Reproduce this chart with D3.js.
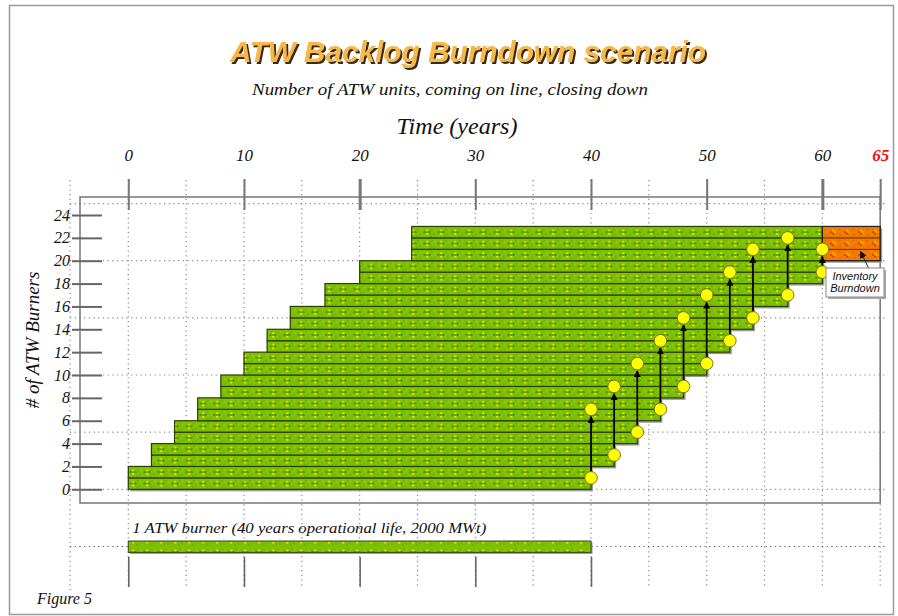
<!DOCTYPE html>
<html>
<head>
<meta charset="utf-8">
<script src="https://cdn.jsdelivr.net/npm/d3@7"></script>
<style>
  body { margin: 0; background: #fff; }
  svg { display: block; }
  .serif { font-family: "Liberation Serif", "DejaVu Serif", serif; font-style: italic; }
</style>
</head>
<body>
<div id="chart"></div>
<script>
// burner groups: start year, shutdown year, number of burners in the group
var groupStart = [0, 2, 4, 6, 8, 10, 12, 14, 17, 20, 24.5];
var groupEnd   = [40, 42, 44, 46, 48, 50, 52, 54, 57, 60, 60];
var groupCount = [2, 2, 2, 2, 2, 2, 2, 2, 2, 2, 3];

// inventory burndown period for the last burners
var inventoryStart = 60, inventoryEnd = 65;
var inventoryRows = [20, 21, 22];

// fuel transfer arrows: year, from burner level, to burner level
var transferYear = [40, 42, 44, 46, 48, 50, 52, 54, 57, 60];
var transferFrom = [1, 3, 5, 7, 9, 11, 13, 15, 17, 19];
var transferTo   = [7, 9, 11, 13, 15, 17, 19, 21, 22, 21];

var topTicks = [0, 10, 20, 30, 40, 50, 60, 65];
var leftTicks = [0, 2, 4, 6, 8, 10, 12, 14, 16, 18, 20, 22, 24];
var gridYears = [0, 5, 10, 15, 20, 25, 30, 35, 40, 45, 50, 55, 60, 65];
var gridLevels = [0, 5, 10, 15, 20, 25];
var legendSpan = [0, 40];

var width = 898, height = 616;

var x = d3.scaleLinear().domain([0, 65]).range([128.3, 880.2]);
var y = d3.scaleLinear().domain([0, 24]).range([489.3, 215]);
var rowH = y(0) - y(1);

var svg = d3.select("#chart").append("svg")
    .attr("width", width)
    .attr("height", height);

var defs = svg.append("defs");

// title drop shadow
var f = defs.append("filter").attr("id", "shadow")
    .attr("x", "-5%").attr("y", "-20%").attr("width", "110%").attr("height", "150%");
f.append("feOffset").attr("in", "SourceAlpha").attr("dx", 2).attr("dy", 2).attr("result", "off");
f.append("feFlood").attr("flood-color", "#3a2c14").attr("result", "col");
f.append("feComposite").attr("in", "col").attr("in2", "off").attr("operator", "in").attr("result", "sh");
var fm = f.append("feMerge");
fm.append("feMergeNode").attr("in", "sh");
fm.append("feMergeNode").attr("in", "SourceGraphic");

// speckled green fill
var gp = defs.append("pattern")
    .attr("id", "green")
    .attr("patternUnits", "userSpaceOnUse")
    .attr("x", x(0)).attr("y", y(0))
    .attr("width", 14).attr("height", rowH);
gp.append("rect").attr("width", 14).attr("height", rowH).attr("fill", "#80c004");
[[1.5, 4.8, "#2f7d00", 1.6], [4, 3.2, "#f0f000", 1.8], [4, 6.6, "#f0f000", 1.8], [6.5, 4.8, "#2f7d00", 1.6],
 [4.2, 5.0, "#3d8a00", 1.4], [9, 2, "#6aa600", 1.3], [11, 8, "#6aa600", 1.3], [8, 9, "#5d9a00", 1.3], [12, 3, "#98d418", 1.3]]
  .forEach(function(p) {
      gp.append("rect").attr("x", p[0]).attr("y", p[1]).attr("width", p[3]).attr("height", p[3]).attr("fill", p[2]);
  });

// speckled orange fill
var op = defs.append("pattern")
    .attr("id", "orange")
    .attr("patternUnits", "userSpaceOnUse")
    .attr("x", x(0)).attr("y", y(0))
    .attr("width", 14).attr("height", rowH);
op.append("rect").attr("width", 14).attr("height", rowH).attr("fill", "#f07c00");
[[2, 5, "#e02000"], [4, 3.4, "#ffd000"], [4, 6.6, "#e02000"], [6, 5, "#ffc000"], [10, 2, "#e86000"], [11, 8, "#e86000"]]
  .forEach(function(p) {
      op.append("rect").attr("x", p[0]).attr("y", p[1]).attr("width", 1.6).attr("height", 1.6).attr("fill", p[2]);
  });

defs.append("marker")
    .attr("id", "arrow")
    .attr("viewBox", "0 0 10 10")
    .attr("refX", 9).attr("refY", 5)
    .attr("markerWidth", 7).attr("markerHeight", 7)
    .attr("markerUnits", "userSpaceOnUse")
    .attr("orient", "auto")
    .append("path").attr("d", "M0,0L10,5L0,10Z").attr("fill", "#000");

// outer border
svg.append("rect")
    .attr("x", 9.5).attr("y", 5.5)
    .attr("width", 884).attr("height", 609)
    .attr("fill", "none").attr("stroke", "#9a9a9a").attr("stroke-width", 1.5);

// title
svg.append("text")
    .attr("x", 468).attr("y", 61.5)
    .attr("text-anchor", "middle")
    .style("font-family", "'Liberation Sans', Arial, sans-serif")
    .style("font-weight", "bold").style("font-style", "italic")
    .style("font-size", "29px")
    .attr("textLength", 476).attr("lengthAdjust", "spacingAndGlyphs")
    .attr("fill", "#f6b84a")
    .attr("filter", "url(#shadow)")
    .text("ATW Backlog Burndown scenario");

svg.append("text")
    .attr("class", "serif")
    .attr("x", 450).attr("y", 95)
    .attr("text-anchor", "middle")
    .style("font-size", "17.5px")
    .attr("textLength", 396).attr("lengthAdjust", "spacingAndGlyphs")
    .attr("fill", "#111")
    .text("Number of ATW units, coming on line, closing down");

svg.append("text")
    .attr("class", "serif")
    .attr("x", 457).attr("y", 134)
    .attr("text-anchor", "middle")
    .style("font-size", "23px")
    .attr("textLength", 121).attr("lengthAdjust", "spacingAndGlyphs")
    .attr("fill", "#111")
    .text("Time (years)");

svg.append("text")
    .attr("class", "serif")
    .attr("transform", "translate(39,340)rotate(-90)")
    .attr("text-anchor", "middle")
    .style("font-size", "19px")
    .attr("fill", "#111")
    .text("# of ATW Burners");

// dotted grid
var grid = svg.append("g").attr("stroke", "#888").attr("stroke-width", 1.2).attr("stroke-dasharray", "1.2,3.5");
grid.selectAll(".vg").data(gridYears).enter().append("line")
    .attr("x1", function(d) { return x(d); }).attr("x2", function(d) { return x(d); })
    .attr("y1", 180).attr("y2", 588);
grid.append("line").attr("x1", 70).attr("x2", 70).attr("y1", 180).attr("y2", 590);
grid.selectAll(".hg").data(gridLevels).enter().append("line")
    .attr("x1", 70).attr("x2", 886)
    .attr("y1", function(d) { return y(d); }).attr("y2", function(d) { return y(d); });
grid.append("line").attr("x1", 70).attr("x2", 886).attr("y1", 546.5).attr("y2", 546.5)
    .attr("stroke", "#555");

// plot frame
svg.append("rect")
    .attr("x", 80).attr("y", 197)
    .attr("width", x(65) - 80).attr("height", 306)
    .attr("fill", "none").attr("stroke", "#777").attr("stroke-width", 1.5);

// top axis
var topAxis = svg.append("g")
    .attr("transform", "translate(0,210)")
    .call(d3.axisTop(x).tickValues(topTicks).tickSize(31).tickPadding(18).tickFormat(d3.format("d")));
topAxis.select(".domain").remove();
topAxis.selectAll(".tick line").attr("stroke", "#777").attr("stroke-width", function(d) { return (d === 20 || d === 60) ? 3 : 2; });
topAxis.selectAll(".tick text")
    .attr("class", "serif")
    .style("font-size", "17px")
    .attr("fill", function(d) { return d === 65 ? "#ee1111" : "#111"; })
    .style("font-weight", function(d) { return d === 65 ? "bold" : "normal"; });

// left axis
var leftAxis = svg.append("g")
    .attr("transform", "translate(102,0)")
    .call(d3.axisLeft(y).tickValues(leftTicks).tickSize(30).tickPadding(2));
leftAxis.select(".domain").remove();
leftAxis.selectAll(".tick line").attr("stroke", "#666").attr("stroke-width", 2);
leftAxis.selectAll(".tick text")
    .attr("class", "serif")
    .style("font-size", "16px")
    .attr("fill", "#111");

// bottom ticks under the legend bar
var botAxis = svg.append("g")
    .attr("transform", "translate(0,557)")
    .call(d3.axisBottom(x).tickValues(d3.range(legendSpan[0], legendSpan[1] + 1, 10)).tickSize(30).tickFormat(""));
botAxis.select(".domain").remove();
botAxis.selectAll(".tick line").attr("stroke", "#666").attr("stroke-width", 1.6);

// burner groups
var groups = groupStart.map(function(s, i) {
    var base = d3.sum(groupCount.slice(0, i));
    return { start: s, end: groupEnd[i], base: base, count: groupCount[i] };
});

var rows = [];
groups.forEach(function(g) {
    d3.range(g.count).forEach(function(k) {
        rows.push({ start: g.start, end: g.end, level: g.base + k });
    });
});

svg.append("g").selectAll("rect").data(groups).enter().append("rect")
    .attr("x", function(d) { return x(d.start) + 2; })
    .attr("y", function(d) { return y(d.base + d.count) + 2; })
    .attr("width", function(d) { return x(d.end) - x(d.start); })
    .attr("height", function(d) { return y(d.base) - y(d.base + d.count); })
    .attr("fill", "#9a9a9a");

// inventory shadow
svg.append("rect")
    .attr("x", x(inventoryStart) + 2)
    .attr("y", y(d3.max(inventoryRows) + 1) + 2)
    .attr("width", x(inventoryEnd) - x(inventoryStart))
    .attr("height", y(d3.min(inventoryRows)) - y(d3.max(inventoryRows) + 1))
    .attr("fill", "#9a9a9a");

svg.append("g").selectAll("rect").data(rows).enter().append("rect")
    .attr("x", function(d) { return x(d.start); })
    .attr("y", function(d) { return y(d.level + 1); })
    .attr("width", function(d) { return x(d.end) - x(d.start); })
    .attr("height", rowH)
    .attr("fill", "url(#green)")
    .attr("stroke", "#2a3f05").attr("stroke-width", 1.2);

svg.append("g").selectAll("rect").data(inventoryRows).enter().append("rect")
    .attr("x", x(inventoryStart))
    .attr("y", function(d) { return y(d + 1); })
    .attr("width", x(inventoryEnd) - x(inventoryStart))
    .attr("height", rowH)
    .attr("fill", "url(#orange)")
    .attr("stroke", "#5a3000").attr("stroke-width", 0.8);
svg.append("rect")
    .attr("x", x(inventoryStart))
    .attr("y", y(d3.max(inventoryRows) + 1))
    .attr("width", x(inventoryEnd) - x(inventoryStart))
    .attr("height", y(d3.min(inventoryRows)) - y(d3.max(inventoryRows) + 1))
    .attr("fill", "none").attr("stroke", "#222").attr("stroke-width", 1.2);

// transfer arrows
var dotR = 6.3;
var transfers = transferYear.map(function(t, i) { return { t: t, from: transferFrom[i], to: transferTo[i] }; });
svg.append("g").selectAll("line").data(transfers).enter().append("line")
    .attr("x1", function(d) { return x(d.t); })
    .attr("x2", function(d) { return x(d.t); })
    .attr("y1", function(d) { return y(d.from) - dotR; })
    .attr("y2", function(d) { return y(d.to) + dotR + 1; })
    .attr("stroke", "#000").attr("stroke-width", 1.8)
    .attr("marker-end", "url(#arrow)");

var dots = [];
transfers.forEach(function(d) { dots.push([d.t, d.from]); dots.push([d.t, d.to]); });
svg.append("g").selectAll("circle").data(dots).enter().append("circle")
    .attr("cx", function(d) { return x(d[0]); })
    .attr("cy", function(d) { return y(d[1]); })
    .attr("r", dotR)
    .attr("fill", "#ffff00")
    .attr("stroke", "#6a6a20").attr("stroke-width", 0.9);

// inventory burndown callout
var cb = { x: 826, y: 268, w: 58, h: 29 };
svg.append("line")
    .attr("x1", x(63.3) + 8).attr("y1", cb.y)
    .attr("x2", x(63.3)).attr("y2", y(20.8))
    .attr("stroke", "#222").attr("stroke-width", 1)
    .attr("marker-end", "url(#arrow)");
svg.append("rect")
    .attr("x", cb.x + 2).attr("y", cb.y + 2).attr("width", cb.w).attr("height", cb.h)
    .attr("fill", "#aaa");
svg.append("rect")
    .attr("x", cb.x).attr("y", cb.y).attr("width", cb.w).attr("height", cb.h)
    .attr("fill", "#fff").attr("stroke", "#888").attr("stroke-width", 1);
svg.append("text")
    .attr("x", cb.x + cb.w / 2).attr("y", cb.y + 12)
    .attr("text-anchor", "middle")
    .style("font-family", "'Liberation Sans', Arial, sans-serif").style("font-style", "italic")
    .style("font-size", "11px").attr("fill", "#111")
    .text("Inventory");
svg.append("text")
    .attr("x", cb.x + cb.w / 2).attr("y", cb.y + 24)
    .attr("text-anchor", "middle")
    .style("font-family", "'Liberation Sans', Arial, sans-serif").style("font-style", "italic")
    .style("font-size", "11px").attr("fill", "#111")
    .text("Burndown");

// legend bar: one burner
svg.append("rect")
    .attr("x", x(legendSpan[0]) + 1.5).attr("y", 542.5)
    .attr("width", x(legendSpan[1]) - x(legendSpan[0])).attr("height", rowH)
    .attr("fill", "#9a9a9a");
svg.append("rect")
    .attr("x", x(legendSpan[0])).attr("y", 541)
    .attr("width", x(legendSpan[1]) - x(legendSpan[0])).attr("height", rowH)
    .attr("fill", "url(#green)")
    .attr("stroke", "#3a4a20").attr("stroke-width", 1);
svg.append("text")
    .attr("class", "serif")
    .attr("x", x(legendSpan[0]) + 4).attr("y", 533)
    .attr("textLength", 354).attr("lengthAdjust", "spacingAndGlyphs")
    .style("font-size", "14px").attr("fill", "#111")
    .text("1 ATW burner (40 years operational life, 2000 MWt)");

svg.append("text")
    .attr("class", "serif")
    .attr("x", 37).attr("y", 604)
    .style("font-size", "16px").attr("fill", "#111")
    .text("Figure 5");
</script>
</body>
</html>
